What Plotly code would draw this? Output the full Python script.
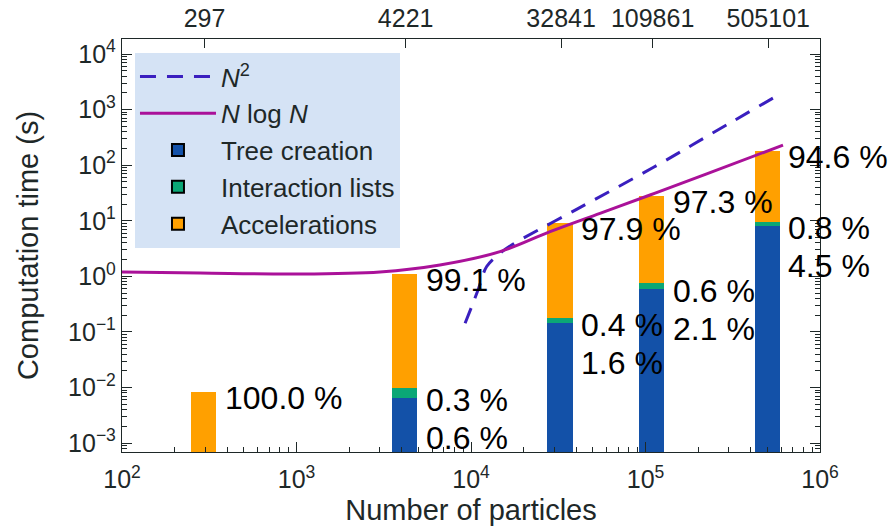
import math
import plotly.graph_objects as go

# Benchmark sizes and measured total run time per stage split
n_particles = [297, 4221, 32841, 109861, 505101]
total_time = [0.0082, 1.08, 9.0, 28.0, 180.0]
pct_tree = [0.0, 0.6, 1.6, 2.1, 4.5]
pct_lists = [0.0, 0.3, 0.4, 0.6, 0.8]
pct_acc = [100.0, 99.1, 97.9, 97.3, 94.6]

# Fitted reference scaling curves
n2_n = [9250, 10090, 11000, 12300, 14670, 17100, 39800, 111200, 251000, 576700]
n2_t = [0.143, 0.285, 0.58, 1.50, 2.6, 3.67, 15.7, 91.6, 403, 1833]
nlogn_n = [100, 280, 1000, 3006, 6640, 14660, 28380, 54850, 106200, 224300, 613800]
nlogn_t = [1.2, 1.15, 1.10, 1.2, 1.6, 2.78, 6.36, 13.6, 29.1, 69.5, 230]

x_ticks = [1e2, 1e3, 1e4, 1e5, 1e6]
x_ticktext = ["10<sup>2</sup>", "10<sup>3</sup>", "10<sup>4</sup>", "10<sup>5</sup>", "10<sup>6</sup>"]
y_ticks = [1e-3, 1e-2, 1e-1, 1e0, 1e1, 1e2, 1e3, 1e4]
y_ticktext = ["10<sup>\u22123</sup>", "10<sup>\u22122</sup>", "10<sup>\u22121</sup>", "10<sup>0</sup>",
              "10<sup>1</sup>", "10<sup>2</sup>", "10<sup>3</sup>", "10<sup>4</sup>"]

FONT = "Liberation Sans, Arial, sans-serif"
INK = "#1e2828"
C_TREE = "#1351a8"
C_LISTS = "#0ba776"
C_ACC = "#ffa000"
C_N2 = "#3a1fbf"
C_NLOGN = "#aa1199"

tree = [t * p / 100 for t, p in zip(total_time, pct_tree)]
lists = [t * p / 100 for t, p in zip(total_time, pct_lists)]
acc = [t * p / 100 for t, p in zip(total_time, pct_acc)]
widths = [0.33 * n for n in n_particles]

fig = go.Figure()

for name, vals, col in [("Tree creation", tree, C_TREE),
                        ("Interaction lists", lists, C_LISTS),
                        ("Accelerations", acc, C_ACC)]:
    fig.add_trace(go.Bar(x=n_particles, y=vals, width=widths, name=name,
                         marker=dict(color=col, line=dict(width=0)),
                         showlegend=False, hoverinfo="skip"))

fig.add_trace(go.Scatter(x=n2_n, y=n2_t, mode="lines", name="<i>N</i><sup>2</sup>",
                         line=dict(color=C_N2, width=3, dash="16px,11px", shape="spline")))
fig.add_trace(go.Scatter(x=nlogn_n, y=nlogn_t, mode="lines", name="<i>N</i> log <i>N</i>",
                         line=dict(color=C_NLOGN, width=3, shape="spline")))

# legend swatches with outlined patches
for name, col in [("Tree creation", C_TREE), ("Interaction lists", C_LISTS), ("Accelerations", C_ACC)]:
    fig.add_trace(go.Bar(x=[None], y=[None], name=name,
                         marker=dict(color=col, line=dict(color="black", width=2))))

# carrier for the top axis listing the benchmark sizes
fig.add_trace(go.Scatter(x=n_particles, y=total_time, xaxis="x2", mode="markers",
                         marker=dict(opacity=0), showlegend=False, hoverinfo="skip"))

ann = []
lab_font = dict(size=32, color="black", family=FONT)
for n, t, tr, li, pa, pl, pt in zip(n_particles, total_time, tree, lists, pct_acc, pct_lists, pct_tree):
    lx = math.log10(n)
    ann.append(dict(x=lx, y=math.log10(t), xref="x", yref="y", text=f"{pa:.1f} %", showarrow=False,
                    xanchor="left", yanchor="middle", xshift=18, yshift=-6, font=lab_font))
    if tr > 0:
        ann.append(dict(x=lx, y=math.log10(tr), xref="x", yref="y", text=f"{pl:.1f} %", showarrow=False,
                        xanchor="left", yanchor="middle", xshift=18, yshift=-2, font=lab_font))
        ann.append(dict(x=lx, y=math.log10(tr), xref="x", yref="y", text=f"{pt:.1f} %", showarrow=False,
                        xanchor="left", yanchor="middle", xshift=18, yshift=-40, font=lab_font))

minor_x = [m * 10 ** e for e in range(2, 6) for m in range(2, 10)]
minor_y = [m * 10.0 ** e for e in range(-4, 5) for m in range(2, 10)]

axis_common = dict(showline=True, linecolor=INK, linewidth=1.3, showgrid=False, zeroline=False,
                   ticks="inside", tickcolor=INK, tickwidth=1.3, automargin=False,
                   tickfont=dict(size=25, color=INK, family=FONT))

fig.update_layout(
    width=888, height=531,
    margin=dict(l=122, r=68, t=39, b=79, autoexpand=False),
    paper_bgcolor="white", plot_bgcolor="white",
    barmode="stack",
    font=dict(family=FONT, color=INK, size=25),
    xaxis=dict(type="log", range=[2, 6], tickmode="array", tickvals=x_ticks, ticktext=x_ticktext,
               ticklen=10, ticklabelstandoff=5, mirror=True,
               minor=dict(tickmode="array", tickvals=minor_x, ticks="inside", ticklen=5,
                          tickcolor=INK, tickwidth=1.2),
               title=dict(text="Number of particles", font=dict(size=29, color=INK, family=FONT),
                          standoff=7),
               **axis_common),
    xaxis2=dict(type="log", range=[2, 6], overlaying="x", side="top", anchor="y",
                tickmode="array", tickvals=n_particles, ticktext=[str(n) for n in n_particles],
                ticklen=9, ticklabelstandoff=1, **axis_common),
    yaxis=dict(type="log", range=[-3.16, 4.27], tickmode="array", tickvals=y_ticks, ticktext=y_ticktext,
               mirror="ticks", ticklen=10,
               minor=dict(tickmode="array", tickvals=minor_y, ticks="inside", ticklen=5,
                          tickcolor=INK, tickwidth=1.2),
               title=dict(text="Computation time (s)", font=dict(size=29, color=INK, family=FONT),
                          standoff=20),
               **axis_common),
    legend=dict(x=0.0186, y=0.966, xanchor="left", yanchor="top", bgcolor="#d5e3f5",
                borderwidth=0, traceorder="normal", font=dict(size=26, color=INK, family=FONT),
                itemwidth=76),
    annotations=ann,
)

fig.write_html("out.html")
